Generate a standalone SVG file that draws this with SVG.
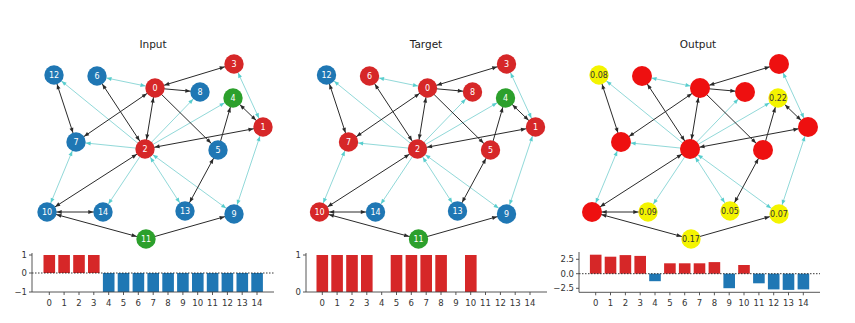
<svg xmlns="http://www.w3.org/2000/svg" width="855" height="323" viewBox="0 0 855 323">
<style>
text{font-family:"DejaVu Sans","Liberation Sans",sans-serif}
.title{font-size:10.5px;fill:#222;text-anchor:middle}
.nl{font-size:8px;fill:#fff;text-anchor:middle;dominant-baseline:central}
.yl{font-size:8px;fill:#333;text-anchor:middle;dominant-baseline:central}
.ek{stroke:#2a2a2a;stroke-width:1;fill:none}
.ec{stroke:#7fd3d3;stroke-width:1;fill:none;opacity:0.85}
.r{fill:#d62728}.b{fill:#1f77b4}.g{fill:#2ca02c}.rr{fill:#ee1010}.y{fill:#f4f400}
.tick{font-size:8.5px;fill:#333;text-anchor:middle}
.yt{font-size:8.5px;fill:#333;text-anchor:end;dominant-baseline:central}
.sp{stroke:#444;stroke-width:0.9;fill:none}
.zl{stroke:#222;stroke-width:0.9;stroke-dasharray:1.5,1.5;fill:none}
.br{fill:#d62728}.bb{fill:#1f77b4}
</style>
<defs>
<marker id="ak" markerUnits="userSpaceOnUse" markerWidth="20" markerHeight="10" refX="14.7" refY="0" orient="auto-start-reverse" overflow="visible"><path d="M0,-2 L5,0 L0,2 z" fill="#2a2a2a"/></marker>
<marker id="ac" markerUnits="userSpaceOnUse" markerWidth="20" markerHeight="10" refX="14.7" refY="0" orient="auto-start-reverse" overflow="visible"><path d="M0,-2 L5,0 L0,2 z" fill="#3cc6c6"/></marker>
<g id="edgeset">
<line class="ec" x1="155" y1="88" x2="97" y2="76" marker-start="url(#ac)" marker-end="url(#ac)"/>
<line class="ec" x1="145" y1="149" x2="54" y2="75" marker-end="url(#ac)"/>
<line class="ec" x1="145" y1="149" x2="76" y2="142" marker-end="url(#ac)"/>
<line class="ec" x1="145" y1="149" x2="200" y2="92" marker-end="url(#ac)"/>
<line class="ec" x1="145" y1="149" x2="233" y2="98" marker-end="url(#ac)"/>
<line class="ec" x1="145" y1="149" x2="103" y2="212" marker-end="url(#ac)"/>
<line class="ec" x1="145" y1="149" x2="185" y2="211" marker-start="url(#ac)" marker-end="url(#ac)"/>
<line class="ec" x1="145" y1="149" x2="234" y2="214" marker-start="url(#ac)" marker-end="url(#ac)"/>
<line class="ec" x1="47" y1="212" x2="76" y2="142" marker-start="url(#ac)" marker-end="url(#ac)"/>
<line class="ec" x1="234" y1="64" x2="263" y2="127" marker-start="url(#ac)" marker-end="url(#ac)"/>
<line class="ec" x1="263" y1="127" x2="234" y2="214" marker-start="url(#ac)" marker-end="url(#ac)"/>
<line class="ek" x1="155" y1="88" x2="234" y2="64" marker-start="url(#ak)" marker-end="url(#ak)"/>
<line class="ek" x1="155" y1="88" x2="200" y2="92" marker-end="url(#ak)"/>
<line class="ek" x1="155" y1="88" x2="76" y2="142" marker-start="url(#ak)" marker-end="url(#ak)"/>
<line class="ek" x1="155" y1="88" x2="145" y2="149" marker-start="url(#ak)" marker-end="url(#ak)"/>
<line class="ek" x1="155" y1="88" x2="218" y2="150" marker-end="url(#ak)"/>
<line class="ek" x1="97" y1="76" x2="145" y2="149" marker-start="url(#ak)" marker-end="url(#ak)"/>
<line class="ek" x1="54" y1="75" x2="76" y2="142" marker-start="url(#ak)" marker-end="url(#ak)"/>
<line class="ek" x1="145" y1="149" x2="263" y2="127" marker-start="url(#ak)" marker-end="url(#ak)"/>
<line class="ek" x1="233" y1="98" x2="263" y2="127" marker-start="url(#ak)" marker-end="url(#ak)"/>
<line class="ek" x1="218" y1="150" x2="233" y2="98" marker-end="url(#ak)"/>
<line class="ek" x1="218" y1="150" x2="185" y2="211" marker-start="url(#ak)" marker-end="url(#ak)"/>
<line class="ek" x1="145" y1="149" x2="47" y2="212" marker-start="url(#ak)" marker-end="url(#ak)"/>
<line class="ek" x1="47" y1="212" x2="103" y2="212" marker-start="url(#ak)" marker-end="url(#ak)"/>
<line class="ek" x1="47" y1="212" x2="146" y2="239" marker-start="url(#ak)" marker-end="url(#ak)"/>
<line class="ek" x1="146" y1="239" x2="234" y2="214" marker-end="url(#ak)"/>
</g>
</defs>
<rect width="855" height="323" fill="#fff"/>
<text class="title" x="153" y="48">Input</text>
<text class="title" x="426" y="48">Target</text>
<text class="title" x="698" y="48">Output</text>
<g id="connectors">
<use href="#edgeset"/>
<use href="#edgeset" transform="translate(272.5,0)"/>
<use href="#edgeset" transform="translate(545,0)"/>
</g>
<g id="input-nodes">
<g id="in0"><circle class="r" cx="155" cy="88" r="9.7"/><text class="nl" x="155" y="88">0</text></g>
<g id="in1"><circle class="r" cx="263" cy="127" r="9.7"/><text class="nl" x="263" y="127">1</text></g>
<g id="in2"><circle class="r" cx="145" cy="149" r="9.7"/><text class="nl" x="145" y="149">2</text></g>
<g id="in3"><circle class="r" cx="234" cy="64" r="9.7"/><text class="nl" x="234" y="64">3</text></g>
<g id="in4"><circle class="g" cx="233" cy="98" r="9.7"/><text class="nl" x="233" y="98">4</text></g>
<g id="in5"><circle class="b" cx="218" cy="150" r="9.7"/><text class="nl" x="218" y="150">5</text></g>
<g id="in6"><circle class="b" cx="97" cy="76" r="9.7"/><text class="nl" x="97" y="76">6</text></g>
<g id="in7"><circle class="b" cx="76" cy="142" r="9.7"/><text class="nl" x="76" y="142">7</text></g>
<g id="in8"><circle class="b" cx="200" cy="92" r="9.7"/><text class="nl" x="200" y="92">8</text></g>
<g id="in9"><circle class="b" cx="234" cy="214" r="9.7"/><text class="nl" x="234" y="214">9</text></g>
<g id="in10"><circle class="b" cx="47" cy="212" r="9.7"/><text class="nl" x="47" y="212">10</text></g>
<g id="in11"><circle class="g" cx="146" cy="239" r="9.7"/><text class="nl" x="146" y="239">11</text></g>
<g id="in12"><circle class="b" cx="54" cy="75" r="9.7"/><text class="nl" x="54" y="75">12</text></g>
<g id="in13"><circle class="b" cx="185" cy="211" r="9.7"/><text class="nl" x="185" y="211">13</text></g>
<g id="in14"><circle class="b" cx="103" cy="212" r="9.7"/><text class="nl" x="103" y="212">14</text></g>
</g>
<g id="target-nodes" transform="translate(272.5,0)">
<g id="tg0"><circle class="r" cx="155" cy="88" r="9.7"/><text class="nl" x="155" y="88">0</text></g>
<g id="tg1"><circle class="r" cx="263" cy="127" r="9.7"/><text class="nl" x="263" y="127">1</text></g>
<g id="tg2"><circle class="r" cx="145" cy="149" r="9.7"/><text class="nl" x="145" y="149">2</text></g>
<g id="tg3"><circle class="r" cx="234" cy="64" r="9.7"/><text class="nl" x="234" y="64">3</text></g>
<g id="tg4"><circle class="g" cx="233" cy="98" r="9.7"/><text class="nl" x="233" y="98">4</text></g>
<g id="tg5"><circle class="r" cx="218" cy="150" r="9.7"/><text class="nl" x="218" y="150">5</text></g>
<g id="tg6"><circle class="r" cx="97" cy="76" r="9.7"/><text class="nl" x="97" y="76">6</text></g>
<g id="tg7"><circle class="r" cx="76" cy="142" r="9.7"/><text class="nl" x="76" y="142">7</text></g>
<g id="tg8"><circle class="r" cx="200" cy="92" r="9.7"/><text class="nl" x="200" y="92">8</text></g>
<g id="tg9"><circle class="b" cx="234" cy="214" r="9.7"/><text class="nl" x="234" y="214">9</text></g>
<g id="tg10"><circle class="r" cx="47" cy="212" r="9.7"/><text class="nl" x="47" y="212">10</text></g>
<g id="tg11"><circle class="g" cx="146" cy="239" r="9.7"/><text class="nl" x="146" y="239">11</text></g>
<g id="tg12"><circle class="b" cx="54" cy="75" r="9.7"/><text class="nl" x="54" y="75">12</text></g>
<g id="tg13"><circle class="b" cx="185" cy="211" r="9.7"/><text class="nl" x="185" y="211">13</text></g>
<g id="tg14"><circle class="b" cx="103" cy="212" r="9.7"/><text class="nl" x="103" y="212">14</text></g>
</g>
<g id="output-nodes" transform="translate(545,0)">
<g id="out0"><circle class="rr" cx="155" cy="88" r="10"/></g>
<g id="out1"><circle class="rr" cx="263" cy="127" r="10"/></g>
<g id="out2"><circle class="rr" cx="145" cy="149" r="10"/></g>
<g id="out3"><circle class="rr" cx="234" cy="64" r="10"/></g>
<g id="out4"><circle class="y" cx="233" cy="98" r="9.7"/><text class="yl" x="233" y="98">0.22</text></g>
<g id="out5"><circle class="rr" cx="218" cy="150" r="10"/></g>
<g id="out6"><circle class="rr" cx="97" cy="76" r="10"/></g>
<g id="out7"><circle class="rr" cx="76" cy="142" r="10"/></g>
<g id="out8"><circle class="rr" cx="200" cy="92" r="10"/></g>
<g id="out9"><circle class="y" cx="234" cy="214" r="9.7"/><text class="yl" x="234" y="214">0.07</text></g>
<g id="out10"><circle class="rr" cx="47" cy="212" r="10"/></g>
<g id="out11"><circle class="y" cx="146" cy="239" r="9.7"/><text class="yl" x="146" y="239">0.17</text></g>
<g id="out12"><circle class="y" cx="54" cy="75" r="9.7"/><text class="yl" x="54" y="75">0.08</text></g>
<g id="out13"><circle class="y" cx="185" cy="211" r="9.7"/><text class="yl" x="185" y="211">0.05</text></g>
<g id="out14"><circle class="y" cx="103" cy="212" r="9.7"/><text class="yl" x="103" y="212">0.09</text></g>
</g>
<g id="chart-input">
<rect class="br" x="43.5" y="255" width="11.6" height="18"/>
<rect class="br" x="58.3" y="255" width="11.6" height="18"/>
<rect class="br" x="73.2" y="255" width="11.6" height="18"/>
<rect class="br" x="88" y="255" width="11.6" height="18"/>
<rect class="bb" x="102.9" y="273" width="11.6" height="19"/>
<rect class="bb" x="117.7" y="273" width="11.6" height="19"/>
<rect class="bb" x="132.6" y="273" width="11.6" height="19"/>
<rect class="bb" x="147.4" y="273" width="11.6" height="19"/>
<rect class="bb" x="162.3" y="273" width="11.6" height="19"/>
<rect class="bb" x="177.1" y="273" width="11.6" height="19"/>
<rect class="bb" x="192" y="273" width="11.6" height="19"/>
<rect class="bb" x="206.8" y="273" width="11.6" height="19"/>
<rect class="bb" x="221.6" y="273" width="11.6" height="19"/>
<rect class="bb" x="236.5" y="273" width="11.6" height="19"/>
<rect class="bb" x="251.3" y="273" width="11.6" height="19"/>
<line class="zl" x1="32" y1="273" x2="274" y2="273"/>
<path class="sp" d="M32,253 V292 H274 M29,255 H32 M29,273 H32 M29,292 H32"/>
<text class="yt" x="27" y="255">1</text>
<text class="yt" x="27" y="273">0</text>
<text class="yt" x="27" y="292">−1</text>
<g class="tick">
<text x="49.3" y="306">0</text><text x="64.1" y="306">1</text><text x="79" y="306">2</text><text x="93.8" y="306">3</text><text x="108.7" y="306">4</text><text x="123.5" y="306">5</text><text x="138.3" y="306">6</text><text x="153.2" y="306">7</text><text x="168" y="306">8</text><text x="182.9" y="306">9</text><text x="197.7" y="306">10</text><text x="212.5" y="306">11</text><text x="227.4" y="306">12</text><text x="242.2" y="306">13</text><text x="257" y="306">14</text>
</g>
<path class="sp" d="M49.3,292v3M64.1,292v3M79,292v3M93.8,292v3M108.7,292v3M123.5,292v3M138.3,292v3M153.2,292v3M168,292v3M182.9,292v3M197.7,292v3M212.5,292v3M227.4,292v3M242.2,292v3M257,292v3"/>
</g>
<g id="chart-target">
<rect class="br" x="316.5" y="255" width="11.6" height="37"/>
<rect class="br" x="331.3" y="255" width="11.6" height="37"/>
<rect class="br" x="346.2" y="255" width="11.6" height="37"/>
<rect class="br" x="361" y="255" width="11.6" height="37"/>
<rect class="br" x="390.7" y="255" width="11.6" height="37"/>
<rect class="br" x="405.6" y="255" width="11.6" height="37"/>
<rect class="br" x="420.4" y="255" width="11.6" height="37"/>
<rect class="br" x="435.3" y="255" width="11.6" height="37"/>
<rect class="br" x="465" y="255" width="11.6" height="37"/>
<path class="sp" d="M306,253 V292 H547 M303,255 H306 M303,292 H306"/>
<text class="yt" x="301" y="255">1</text>
<text class="yt" x="301" y="292">0</text>
<g class="tick">
<text x="322.3" y="306">0</text><text x="337.1" y="306">1</text><text x="352" y="306">2</text><text x="366.8" y="306">3</text><text x="381.7" y="306">4</text><text x="396.5" y="306">5</text><text x="411.3" y="306">6</text><text x="426.2" y="306">7</text><text x="441" y="306">8</text><text x="455.9" y="306">9</text><text x="470.7" y="306">10</text><text x="485.5" y="306">11</text><text x="500.4" y="306">12</text><text x="515.2" y="306">13</text><text x="530" y="306">14</text>
</g>
<path class="sp" d="M322.3,292v3M337.1,292v3M352,292v3M366.8,292v3M381.7,292v3M396.5,292v3M411.3,292v3M426.2,292v3M441,292v3M455.9,292v3M470.7,292v3M485.5,292v3M500.4,292v3M515.2,292v3M530,292v3"/>
</g>
<g id="chart-output">
<rect class="br" x="589.9" y="254.7" width="11.6" height="19"/>
<rect class="br" x="604.7" y="256.7" width="11.6" height="17"/>
<rect class="br" x="619.6" y="255.1" width="11.6" height="18.6"/>
<rect class="br" x="634.4" y="255.9" width="11.6" height="17.8"/>
<rect class="bb" x="649.2" y="273.7" width="11.6" height="7.5"/>
<rect class="br" x="664.1" y="263.3" width="11.6" height="10.4"/>
<rect class="br" x="678.9" y="263.3" width="11.6" height="10.4"/>
<rect class="br" x="693.7" y="263.3" width="11.6" height="10.4"/>
<rect class="br" x="708.6" y="262.1" width="11.6" height="11.6"/>
<rect class="bb" x="723.4" y="273.7" width="11.6" height="14.5"/>
<rect class="br" x="738.2" y="265" width="11.6" height="8.7"/>
<rect class="bb" x="753.1" y="273.7" width="11.6" height="9.6"/>
<rect class="bb" x="767.9" y="273.7" width="11.6" height="15.7"/>
<rect class="bb" x="782.7" y="273.7" width="11.6" height="16.2"/>
<rect class="bb" x="797.6" y="273.7" width="11.6" height="15.7"/>
<line class="zl" x1="579" y1="273.7" x2="820" y2="273.7"/>
<path class="sp" d="M579,252 V292.3 H820 M576,259.3 H579 M576,273.7 H579 M576,288.3 H579"/>
<text class="yt" x="574" y="259.3">2.5</text>
<text class="yt" x="574" y="273.7">0.0</text>
<text class="yt" x="574" y="288.3">−2.5</text>
<g class="tick">
<text x="595.7" y="306">0</text><text x="610.5" y="306">1</text><text x="625.4" y="306">2</text><text x="640.2" y="306">3</text><text x="655" y="306">4</text><text x="669.9" y="306">5</text><text x="684.7" y="306">6</text><text x="699.5" y="306">7</text><text x="714.4" y="306">8</text><text x="729.2" y="306">9</text><text x="744" y="306">10</text><text x="758.9" y="306">11</text><text x="773.7" y="306">12</text><text x="788.5" y="306">13</text><text x="803.3" y="306">14</text>
</g>
<path class="sp" d="M595.7,292.3v3M610.5,292.3v3M625.4,292.3v3M640.2,292.3v3M655,292.3v3M669.9,292.3v3M684.7,292.3v3M699.5,292.3v3M714.4,292.3v3M729.2,292.3v3M744,292.3v3M758.9,292.3v3M773.7,292.3v3M788.5,292.3v3M803.3,292.3v3"/>
</g>
</svg>
